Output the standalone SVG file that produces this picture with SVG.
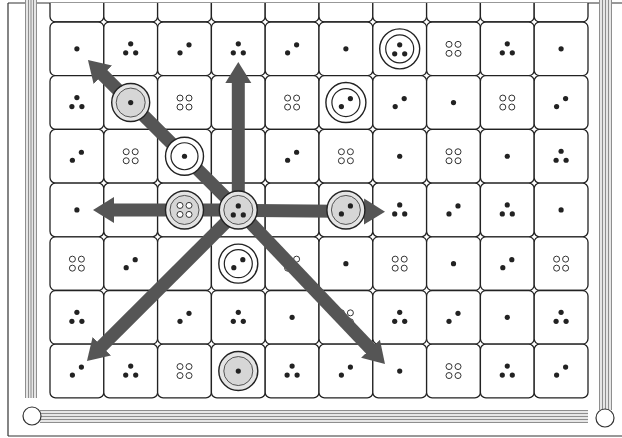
<svg xmlns="http://www.w3.org/2000/svg" xmlns:xlink="http://www.w3.org/1999/xlink" width="622" height="438" viewBox="0 0 622 438">
<style>
.cell{fill:#fff;stroke:#222;stroke-width:1.3}
.dot{fill:#222}
.open{fill:#fff;stroke:#333;stroke-width:1}
.arrow{stroke:#555;stroke-width:13;fill:none;stroke-linecap:butt}
.gout{fill:#e4e4e4;stroke:#222;stroke-width:1.4}
.gin{fill:#d6d6d6;stroke:#444;stroke-width:0.9}
.wout{fill:#fff;stroke:#222;stroke-width:1.4}
.win{fill:#fff;stroke:#222;stroke-width:1.2}
.stripe{fill:#e6e6e6}
.sl{stroke:#777;stroke-width:0.8}
.frame{stroke:#333;stroke-width:1.2;fill:none}
.knob{fill:#fff;stroke:#333;stroke-width:1.2}
</style>
<defs>
<rect id="cr" x="0" y="0" width="53.8" height="53.7" rx="5.5" class="cell"/>
<g id="d1"><circle r="2.6" class="dot"/></g>
<g id="d2"><circle cx="-4.5" cy="4" r="2.6" class="dot"/><circle cx="4.5" cy="-4" r="2.6" class="dot"/></g>
<g id="d3"><circle cx="0" cy="-5" r="2.6" class="dot"/><circle cx="-5" cy="4" r="2.6" class="dot"/><circle cx="5" cy="4" r="2.6" class="dot"/></g>
<g id="d4"><circle cx="-4.5" cy="-4.5" r="3" class="open"/><circle cx="4.5" cy="-4.5" r="3" class="open"/><circle cx="-4.5" cy="4.5" r="3" class="open"/><circle cx="4.5" cy="4.5" r="3" class="open"/></g>
<marker id="ah" markerUnits="userSpaceOnUse" markerWidth="22" markerHeight="28" viewBox="0 -14 22 28" refX="1" refY="0" orient="auto"><path d="M0,-13 L21,0 L0,13 z" fill="#555"/></marker>
<clipPath id="topclip"><rect x="0" y="3" width="622" height="30"/></clipPath>
</defs>
<rect width="622" height="438" fill="#fff"/>
<g id="frame">
<line class="frame" x1="8" y1="3" x2="622" y2="3"/>
<line class="frame" x1="8" y1="3" x2="8" y2="436"/>
<line class="frame" x1="8" y1="436" x2="622" y2="436"/>
<rect class="stripe" x="25" y="0" width="12" height="398"/>
<g class="sl"><line x1="25.5" y1="0" x2="25.5" y2="398"/><line x1="28.5" y1="0" x2="28.5" y2="398"/><line x1="31" y1="0" x2="31" y2="398"/><line x1="33.5" y1="0" x2="33.5" y2="398"/><line x1="36.5" y1="0" x2="36.5" y2="398"/></g>
<rect class="stripe" x="599" y="0" width="13" height="410"/>
<g class="sl"><line x1="599.5" y1="0" x2="599.5" y2="410"/><line x1="602.5" y1="0" x2="602.5" y2="410"/><line x1="605.5" y1="0" x2="605.5" y2="410"/><line x1="608.5" y1="0" x2="608.5" y2="410"/><line x1="611.5" y1="0" x2="611.5" y2="410"/></g>
<rect class="stripe" x="40" y="410" width="548" height="13"/>
<g class="sl"><line x1="40" y1="410.5" x2="588" y2="410.5"/><line x1="40" y1="413.5" x2="588" y2="413.5"/><line x1="40" y1="416.5" x2="588" y2="416.5"/><line x1="40" y1="419.5" x2="588" y2="419.5"/><line x1="40" y1="422.5" x2="588" y2="422.5"/></g>
<circle class="knob" cx="32" cy="416" r="9"/>
<circle class="knob" cx="605" cy="418" r="9"/>
</g>
<g id="top-row" clip-path="url(#topclip)">
<use href="#cr" x="50" y="-31.7"/><use href="#cr" x="103.8" y="-31.7"/><use href="#cr" x="157.6" y="-31.7"/><use href="#cr" x="211.4" y="-31.7"/><use href="#cr" x="265.2" y="-31.7"/><use href="#cr" x="319" y="-31.7"/><use href="#cr" x="372.8" y="-31.7"/><use href="#cr" x="426.6" y="-31.7"/><use href="#cr" x="480.4" y="-31.7"/><use href="#cr" x="534.2" y="-31.7"/>
</g>
<g id="cells">
<g id="cell-0-0"><use href="#cr" x="50" y="22"/><use href="#d1" x="76.9" y="48.85"/></g>
<g id="cell-0-1"><use href="#cr" x="103.8" y="22"/><use href="#d3" x="130.7" y="48.85"/></g>
<g id="cell-0-2"><use href="#cr" x="157.6" y="22"/><use href="#d2" x="184.5" y="48.85"/></g>
<g id="cell-0-3"><use href="#cr" x="211.4" y="22"/><use href="#d3" x="238.3" y="48.85"/></g>
<g id="cell-0-4"><use href="#cr" x="265.2" y="22"/><use href="#d2" x="292.1" y="48.85"/></g>
<g id="cell-0-5"><use href="#cr" x="319" y="22"/><use href="#d1" x="345.9" y="48.85"/></g>
<g id="cell-0-6"><use href="#cr" x="372.8" y="22"/></g>
<g id="cell-0-7"><use href="#cr" x="426.6" y="22"/><use href="#d4" x="453.5" y="48.85"/></g>
<g id="cell-0-8"><use href="#cr" x="480.4" y="22"/><use href="#d3" x="507.3" y="48.85"/></g>
<g id="cell-0-9"><use href="#cr" x="534.2" y="22"/><use href="#d1" x="561.1" y="48.85"/></g>

<g id="cell-1-0"><use href="#cr" x="50" y="75.7"/><use href="#d3" x="76.9" y="102.55"/></g>
<g id="cell-1-1"><use href="#cr" x="103.8" y="75.7"/></g>
<g id="cell-1-2"><use href="#cr" x="157.6" y="75.7"/><use href="#d4" x="184.5" y="102.55"/></g>
<g id="cell-1-3"><use href="#cr" x="211.4" y="75.7"/></g>
<g id="cell-1-4"><use href="#cr" x="265.2" y="75.7"/><use href="#d4" x="292.1" y="102.55"/></g>
<g id="cell-1-5"><use href="#cr" x="319" y="75.7"/></g>
<g id="cell-1-6"><use href="#cr" x="372.8" y="75.7"/><use href="#d2" x="399.7" y="102.55"/></g>
<g id="cell-1-7"><use href="#cr" x="426.6" y="75.7"/><use href="#d1" x="453.5" y="102.55"/></g>
<g id="cell-1-8"><use href="#cr" x="480.4" y="75.7"/><use href="#d4" x="507.3" y="102.55"/></g>
<g id="cell-1-9"><use href="#cr" x="534.2" y="75.7"/><use href="#d2" x="561.1" y="102.55"/></g>

<g id="cell-2-0"><use href="#cr" x="50" y="129.4"/><use href="#d2" x="76.9" y="156.25"/></g>
<g id="cell-2-1"><use href="#cr" x="103.8" y="129.4"/><use href="#d4" x="130.7" y="156.25"/></g>
<g id="cell-2-2"><use href="#cr" x="157.6" y="129.4"/></g>
<g id="cell-2-3"><use href="#cr" x="211.4" y="129.4"/></g>
<g id="cell-2-4"><use href="#cr" x="265.2" y="129.4"/><use href="#d2" x="292.1" y="156.25"/></g>
<g id="cell-2-5"><use href="#cr" x="319" y="129.4"/><use href="#d4" x="345.9" y="156.25"/></g>
<g id="cell-2-6"><use href="#cr" x="372.8" y="129.4"/><use href="#d1" x="399.7" y="156.25"/></g>
<g id="cell-2-7"><use href="#cr" x="426.6" y="129.4"/><use href="#d4" x="453.5" y="156.25"/></g>
<g id="cell-2-8"><use href="#cr" x="480.4" y="129.4"/><use href="#d1" x="507.3" y="156.25"/></g>
<g id="cell-2-9"><use href="#cr" x="534.2" y="129.4"/><use href="#d3" x="561.1" y="156.25"/></g>

<g id="cell-3-0"><use href="#cr" x="50" y="183.1"/><use href="#d1" x="76.9" y="209.95"/></g>
<g id="cell-3-1"><use href="#cr" x="103.8" y="183.1"/></g>
<g id="cell-3-2"><use href="#cr" x="157.6" y="183.1"/></g>
<g id="cell-3-3"><use href="#cr" x="211.4" y="183.1"/></g>
<g id="cell-3-4"><use href="#cr" x="265.2" y="183.1"/></g>
<g id="cell-3-5"><use href="#cr" x="319" y="183.1"/></g>
<g id="cell-3-6"><use href="#cr" x="372.8" y="183.1"/><use href="#d3" x="399.7" y="209.95"/></g>
<g id="cell-3-7"><use href="#cr" x="426.6" y="183.1"/><use href="#d2" x="453.5" y="209.95"/></g>
<g id="cell-3-8"><use href="#cr" x="480.4" y="183.1"/><use href="#d3" x="507.3" y="209.95"/></g>
<g id="cell-3-9"><use href="#cr" x="534.2" y="183.1"/><use href="#d1" x="561.1" y="209.95"/></g>

<g id="cell-4-0"><use href="#cr" x="50" y="236.8"/><use href="#d4" x="76.9" y="263.65"/></g>
<g id="cell-4-1"><use href="#cr" x="103.8" y="236.8"/><use href="#d2" x="130.7" y="263.65"/></g>
<g id="cell-4-2"><use href="#cr" x="157.6" y="236.8"/></g>
<g id="cell-4-3"><use href="#cr" x="211.4" y="236.8"/></g>
<g id="cell-4-4"><use href="#cr" x="265.2" y="236.8"/><use href="#d4" x="292.1" y="263.65"/></g>
<g id="cell-4-5"><use href="#cr" x="319" y="236.8"/><use href="#d1" x="345.9" y="263.65"/></g>
<g id="cell-4-6"><use href="#cr" x="372.8" y="236.8"/><use href="#d4" x="399.7" y="263.65"/></g>
<g id="cell-4-7"><use href="#cr" x="426.6" y="236.8"/><use href="#d1" x="453.5" y="263.65"/></g>
<g id="cell-4-8"><use href="#cr" x="480.4" y="236.8"/><use href="#d2" x="507.3" y="263.65"/></g>
<g id="cell-4-9"><use href="#cr" x="534.2" y="236.8"/><use href="#d4" x="561.1" y="263.65"/></g>

<g id="cell-5-0"><use href="#cr" x="50" y="290.5"/><use href="#d3" x="76.9" y="317.35"/></g>
<g id="cell-5-1"><use href="#cr" x="103.8" y="290.5"/></g>
<g id="cell-5-2"><use href="#cr" x="157.6" y="290.5"/><use href="#d2" x="184.5" y="317.35"/></g>
<g id="cell-5-3"><use href="#cr" x="211.4" y="290.5"/><use href="#d3" x="238.3" y="317.35"/></g>
<g id="cell-5-4"><use href="#cr" x="265.2" y="290.5"/><use href="#d1" x="292.1" y="317.35"/></g>
<g id="cell-5-5"><use href="#cr" x="319" y="290.5"/><use href="#d4" x="345.9" y="317.35"/></g>
<g id="cell-5-6"><use href="#cr" x="372.8" y="290.5"/><use href="#d3" x="399.7" y="317.35"/></g>
<g id="cell-5-7"><use href="#cr" x="426.6" y="290.5"/><use href="#d2" x="453.5" y="317.35"/></g>
<g id="cell-5-8"><use href="#cr" x="480.4" y="290.5"/><use href="#d1" x="507.3" y="317.35"/></g>
<g id="cell-5-9"><use href="#cr" x="534.2" y="290.5"/><use href="#d3" x="561.1" y="317.35"/></g>

<g id="cell-6-0"><use href="#cr" x="50" y="344.2"/><use href="#d2" x="76.9" y="371.05"/></g>
<g id="cell-6-1"><use href="#cr" x="103.8" y="344.2"/><use href="#d3" x="130.7" y="371.05"/></g>
<g id="cell-6-2"><use href="#cr" x="157.6" y="344.2"/><use href="#d4" x="184.5" y="371.05"/></g>
<g id="cell-6-3"><use href="#cr" x="211.4" y="344.2"/></g>
<g id="cell-6-4"><use href="#cr" x="265.2" y="344.2"/><use href="#d3" x="292.1" y="371.05"/></g>
<g id="cell-6-5"><use href="#cr" x="319" y="344.2"/><use href="#d2" x="345.9" y="371.05"/></g>
<g id="cell-6-6"><use href="#cr" x="372.8" y="344.2"/><use href="#d1" x="399.7" y="371.05"/></g>
<g id="cell-6-7"><use href="#cr" x="426.6" y="344.2"/><use href="#d4" x="453.5" y="371.05"/></g>
<g id="cell-6-8"><use href="#cr" x="480.4" y="344.2"/><use href="#d3" x="507.3" y="371.05"/></g>
<g id="cell-6-9"><use href="#cr" x="534.2" y="344.2"/><use href="#d2" x="561.1" y="371.05"/></g>
</g>
<g id="connectors">
<line class="arrow" x1="238.3" y1="210" x2="238.3" y2="82" marker-end="url(#ah)"/>
<line class="arrow" x1="238.3" y1="210" x2="113" y2="210" marker-end="url(#ah)"/>
<line class="arrow" x1="238.3" y1="210.5" x2="365" y2="211.5" marker-end="url(#ah)"/>
<line class="arrow" x1="238.3" y1="210" x2="102.1" y2="74.1" marker-end="url(#ah)"/>
<line class="arrow" x1="238.3" y1="210" x2="101.1" y2="346.9" marker-end="url(#ah)"/>
<line class="arrow" x1="238.3" y1="210" x2="371.2" y2="349.5" marker-end="url(#ah)"/>
</g>
<g id="piece-white-0-6"><circle class="wout" cx="399.7" cy="48.85" r="20"/><circle class="win" cx="399.7" cy="48.85" r="14"/><use href="#d3" x="399.7" y="49.85"/></g>
<g id="piece-gray-1-1"><circle class="gout" cx="130.7" cy="102.55" r="19"/><circle class="gin" cx="130.7" cy="102.55" r="14.5"/><use href="#d1" x="130.7" y="102.55"/></g>
<g id="piece-white-1-5"><circle class="wout" cx="345.9" cy="102.55" r="20"/><circle class="win" cx="345.9" cy="102.55" r="14"/><use href="#d2" x="345.9" y="102.55"/></g>
<g id="piece-white-2-2"><circle class="wout" cx="184.5" cy="156.25" r="19"/><circle class="win" cx="184.5" cy="156.25" r="13.5"/><use href="#d1" x="184.5" y="156.25"/></g>
<g id="piece-gray-3-2"><circle class="gout" cx="184.5" cy="209.95" r="19"/><circle class="gin" cx="184.5" cy="209.95" r="14.5"/><use href="#d4" x="184.5" y="209.95"/></g>
<g id="piece-gray-3-3"><circle class="gout" cx="238.3" cy="209.95" r="19"/><circle class="gin" cx="238.3" cy="209.95" r="14.5"/><use href="#d3" x="238.3" y="210.95"/></g>
<g id="piece-gray-3-5"><circle class="gout" cx="345.9" cy="209.95" r="19"/><circle class="gin" cx="345.9" cy="209.95" r="14.5"/><use href="#d2" x="345.9" y="209.95"/></g>
<g id="piece-white-4-3"><circle class="wout" cx="238.3" cy="263.65" r="19.5"/><circle class="win" cx="238.3" cy="263.65" r="14"/><use href="#d2" x="238.3" y="263.65"/></g>
<g id="piece-gray-6-3"><circle class="gout" cx="238.3" cy="371.05" r="19.5"/><circle class="gin" cx="238.3" cy="371.05" r="14.5"/><use href="#d1" x="238.3" y="371.05"/></g>
</svg>
